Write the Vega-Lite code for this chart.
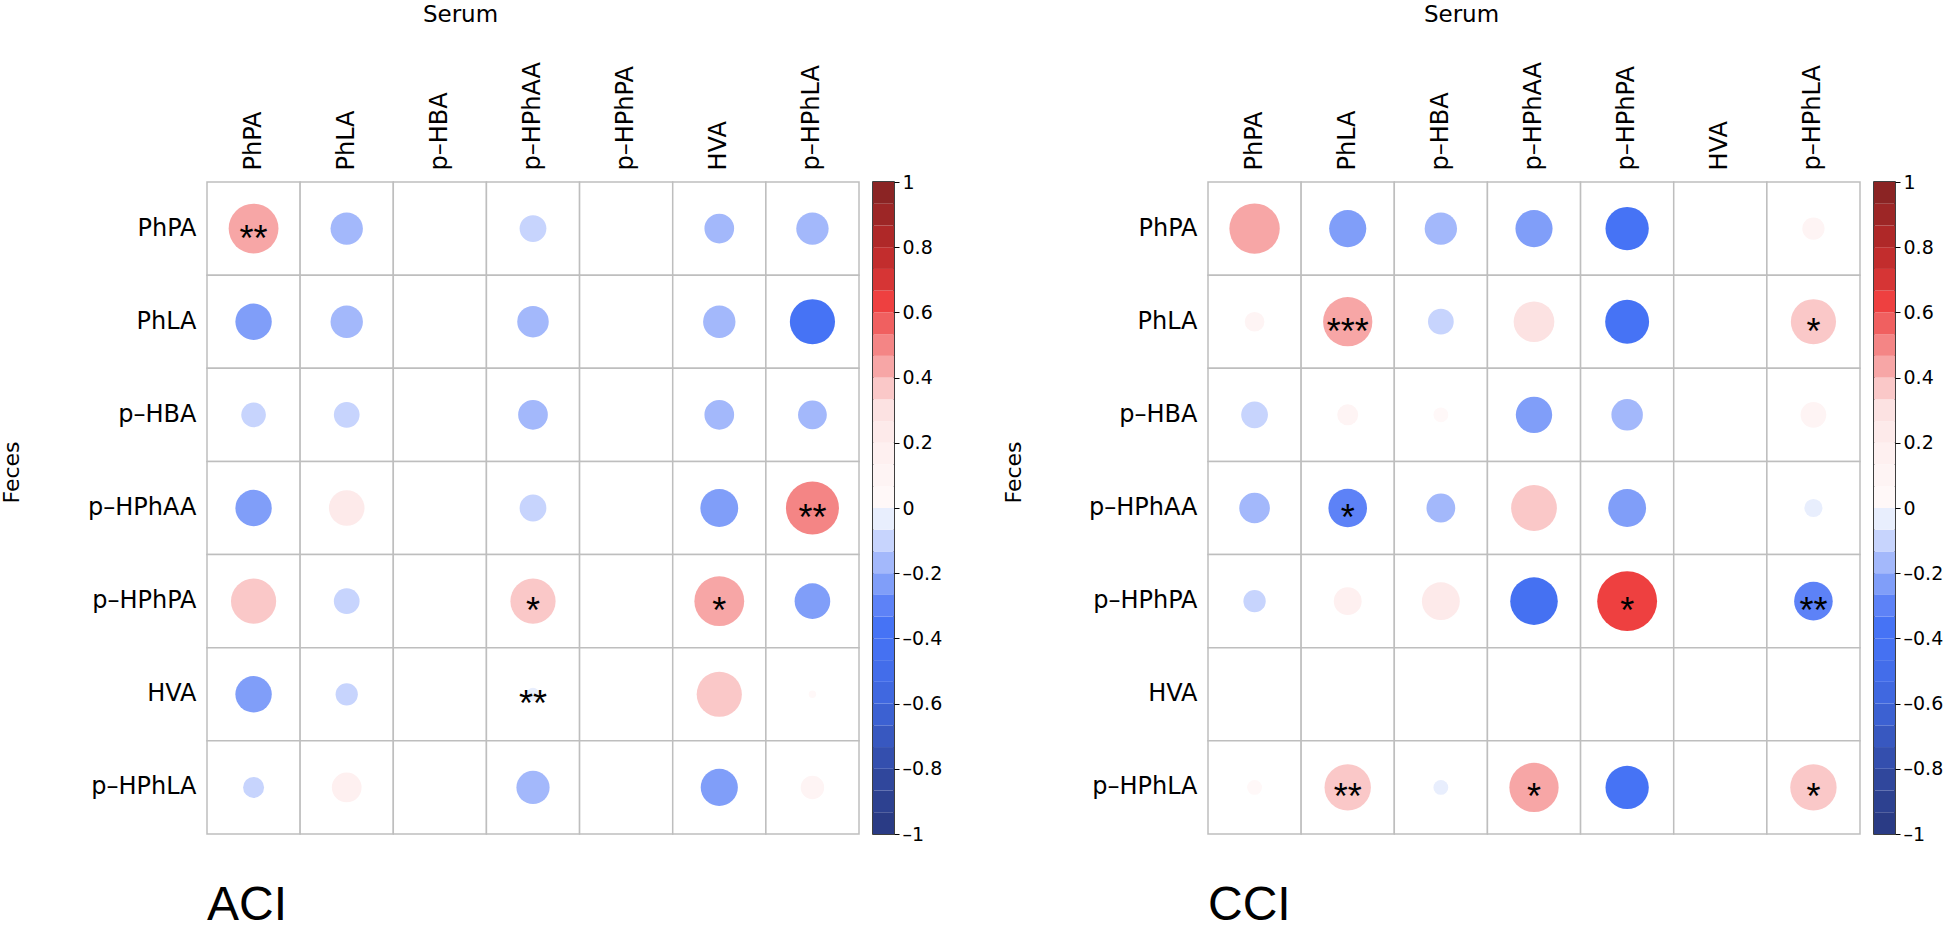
{
  "$schema": "https://vega.github.io/schema/vega-lite/v6.json",
  "padding": {"left": 0, "top": 3, "right": 0, "bottom": 0},
  "background": "white",
  "spacing": 59,
  "datasets": {
    "aci": [
      {"row": "PhPA", "col": "PhPA", "r": 0.45, "sig": "**"},
      {"row": "PhPA", "col": "PhLA", "r": -0.19, "sig": ""},
      {"row": "PhPA", "col": "p–HBA", "r": null, "sig": ""},
      {"row": "PhPA", "col": "p–HPhAA", "r": -0.13, "sig": ""},
      {"row": "PhPA", "col": "p–HPhPA", "r": null, "sig": ""},
      {"row": "PhPA", "col": "HVA", "r": -0.16, "sig": ""},
      {"row": "PhPA", "col": "p–HPhLA", "r": -0.19, "sig": ""},
      {"row": "PhLA", "col": "PhPA", "r": -0.24, "sig": ""},
      {"row": "PhLA", "col": "PhLA", "r": -0.19, "sig": ""},
      {"row": "PhLA", "col": "p–HBA", "r": null, "sig": ""},
      {"row": "PhLA", "col": "p–HPhAA", "r": -0.18, "sig": ""},
      {"row": "PhLA", "col": "p–HPhPA", "r": null, "sig": ""},
      {"row": "PhLA", "col": "HVA", "r": -0.19, "sig": ""},
      {"row": "PhLA", "col": "p–HPhLA", "r": -0.37, "sig": ""},
      {"row": "p–HBA", "col": "PhPA", "r": -0.11, "sig": ""},
      {"row": "p–HBA", "col": "PhLA", "r": -0.12, "sig": ""},
      {"row": "p–HBA", "col": "p–HBA", "r": null, "sig": ""},
      {"row": "p–HBA", "col": "p–HPhAA", "r": -0.16, "sig": ""},
      {"row": "p–HBA", "col": "p–HPhPA", "r": null, "sig": ""},
      {"row": "p–HBA", "col": "HVA", "r": -0.16, "sig": ""},
      {"row": "p–HBA", "col": "p–HPhLA", "r": -0.15, "sig": ""},
      {"row": "p–HPhAA", "col": "PhPA", "r": -0.24, "sig": ""},
      {"row": "p–HPhAA", "col": "PhLA", "r": 0.23, "sig": ""},
      {"row": "p–HPhAA", "col": "p–HBA", "r": null, "sig": ""},
      {"row": "p–HPhAA", "col": "p–HPhAA", "r": -0.13, "sig": ""},
      {"row": "p–HPhAA", "col": "p–HPhPA", "r": null, "sig": ""},
      {"row": "p–HPhAA", "col": "HVA", "r": -0.26, "sig": ""},
      {"row": "p–HPhAA", "col": "p–HPhLA", "r": 0.51, "sig": "**"},
      {"row": "p–HPhPA", "col": "PhPA", "r": 0.37, "sig": ""},
      {"row": "p–HPhPA", "col": "PhLA", "r": -0.12, "sig": ""},
      {"row": "p–HPhPA", "col": "p–HBA", "r": null, "sig": ""},
      {"row": "p–HPhPA", "col": "p–HPhAA", "r": 0.37, "sig": "*"},
      {"row": "p–HPhPA", "col": "p–HPhPA", "r": null, "sig": ""},
      {"row": "p–HPhPA", "col": "HVA", "r": 0.45, "sig": "*"},
      {"row": "p–HPhPA", "col": "p–HPhLA", "r": -0.23, "sig": ""},
      {"row": "HVA", "col": "PhPA", "r": -0.24, "sig": ""},
      {"row": "HVA", "col": "PhLA", "r": -0.09, "sig": ""},
      {"row": "HVA", "col": "p–HBA", "r": null, "sig": ""},
      {"row": "HVA", "col": "p–HPhAA", "r": -0.03, "sig": "**"},
      {"row": "HVA", "col": "p–HPhPA", "r": null, "sig": ""},
      {"row": "HVA", "col": "HVA", "r": 0.37, "sig": ""},
      {"row": "HVA", "col": "p–HPhLA", "r": 0.01, "sig": ""},
      {"row": "p–HPhLA", "col": "PhPA", "r": -0.08, "sig": ""},
      {"row": "p–HPhLA", "col": "PhLA", "r": 0.16, "sig": ""},
      {"row": "p–HPhLA", "col": "p–HBA", "r": null, "sig": ""},
      {"row": "p–HPhLA", "col": "p–HPhAA", "r": -0.2, "sig": ""},
      {"row": "p–HPhLA", "col": "p–HPhPA", "r": null, "sig": ""},
      {"row": "p–HPhLA", "col": "HVA", "r": -0.25, "sig": ""},
      {"row": "p–HPhLA", "col": "p–HPhLA", "r": 0.1, "sig": ""}
    ],
    "cci": [
      {"row": "PhPA", "col": "PhPA", "r": 0.46, "sig": ""},
      {"row": "PhPA", "col": "PhLA", "r": -0.25, "sig": ""},
      {"row": "PhPA", "col": "p–HBA", "r": -0.19, "sig": ""},
      {"row": "PhPA", "col": "p–HPhAA", "r": -0.25, "sig": ""},
      {"row": "PhPA", "col": "p–HPhPA", "r": -0.34, "sig": ""},
      {"row": "PhPA", "col": "HVA", "r": null, "sig": ""},
      {"row": "PhPA", "col": "p–HPhLA", "r": 0.09, "sig": ""},
      {"row": "PhLA", "col": "PhPA", "r": 0.07, "sig": ""},
      {"row": "PhLA", "col": "PhLA", "r": 0.44, "sig": "***"},
      {"row": "PhLA", "col": "p–HBA", "r": -0.12, "sig": ""},
      {"row": "PhLA", "col": "p–HPhAA", "r": 0.3, "sig": ""},
      {"row": "PhLA", "col": "p–HPhPA", "r": -0.35, "sig": ""},
      {"row": "PhLA", "col": "HVA", "r": null, "sig": ""},
      {"row": "PhLA", "col": "p–HPhLA", "r": 0.37, "sig": "*"},
      {"row": "p–HBA", "col": "PhPA", "r": -0.13, "sig": ""},
      {"row": "p–HBA", "col": "PhLA", "r": 0.08, "sig": ""},
      {"row": "p–HBA", "col": "p–HBA", "r": 0.04, "sig": ""},
      {"row": "p–HBA", "col": "p–HPhAA", "r": -0.24, "sig": ""},
      {"row": "p–HBA", "col": "p–HPhPA", "r": -0.18, "sig": ""},
      {"row": "p–HBA", "col": "HVA", "r": null, "sig": ""},
      {"row": "p–HBA", "col": "p–HPhLA", "r": 0.12, "sig": ""},
      {"row": "p–HPhAA", "col": "PhPA", "r": -0.17, "sig": ""},
      {"row": "p–HPhAA", "col": "PhLA", "r": -0.27, "sig": "*"},
      {"row": "p–HPhAA", "col": "p–HBA", "r": -0.15, "sig": ""},
      {"row": "p–HPhAA", "col": "p–HPhAA", "r": 0.38, "sig": ""},
      {"row": "p–HPhAA", "col": "p–HPhPA", "r": -0.26, "sig": ""},
      {"row": "p–HPhAA", "col": "HVA", "r": null, "sig": ""},
      {"row": "p–HPhAA", "col": "p–HPhLA", "r": -0.06, "sig": ""},
      {"row": "p–HPhPA", "col": "PhPA", "r": -0.09, "sig": ""},
      {"row": "p–HPhPA", "col": "PhLA", "r": 0.14, "sig": ""},
      {"row": "p–HPhPA", "col": "p–HBA", "r": 0.26, "sig": ""},
      {"row": "p–HPhPA", "col": "p–HPhAA", "r": -0.41, "sig": ""},
      {"row": "p–HPhPA", "col": "p–HPhPA", "r": 0.65, "sig": "*"},
      {"row": "p–HPhPA", "col": "HVA", "r": null, "sig": ""},
      {"row": "p–HPhPA", "col": "p–HPhLA", "r": -0.27, "sig": "**"},
      {"row": "HVA", "col": "PhPA", "r": null, "sig": ""},
      {"row": "HVA", "col": "PhLA", "r": null, "sig": ""},
      {"row": "HVA", "col": "p–HBA", "r": null, "sig": ""},
      {"row": "HVA", "col": "p–HPhAA", "r": null, "sig": ""},
      {"row": "HVA", "col": "p–HPhPA", "r": null, "sig": ""},
      {"row": "HVA", "col": "HVA", "r": null, "sig": ""},
      {"row": "HVA", "col": "p–HPhLA", "r": null, "sig": ""},
      {"row": "p–HPhLA", "col": "PhPA", "r": 0.04, "sig": ""},
      {"row": "p–HPhLA", "col": "PhLA", "r": 0.39, "sig": "**"},
      {"row": "p–HPhLA", "col": "p–HBA", "r": -0.04, "sig": ""},
      {"row": "p–HPhLA", "col": "p–HPhAA", "r": 0.44, "sig": "*"},
      {"row": "p–HPhLA", "col": "p–HPhPA", "r": -0.34, "sig": ""},
      {"row": "p–HPhLA", "col": "HVA", "r": null, "sig": ""},
      {"row": "p–HPhLA", "col": "p–HPhLA", "r": 0.39, "sig": "*"}
    ],
    "bar": [
      {"lo": -1, "hi": -0.9333, "mid": -0.9667},
      {"lo": -0.9333, "hi": -0.8667, "mid": -0.9},
      {"lo": -0.8667, "hi": -0.8, "mid": -0.8333},
      {"lo": -0.8, "hi": -0.7333, "mid": -0.7667},
      {"lo": -0.7333, "hi": -0.6667, "mid": -0.7},
      {"lo": -0.6667, "hi": -0.6, "mid": -0.6333},
      {"lo": -0.6, "hi": -0.5333, "mid": -0.5667},
      {"lo": -0.5333, "hi": -0.4667, "mid": -0.5},
      {"lo": -0.4667, "hi": -0.4, "mid": -0.4333},
      {"lo": -0.4, "hi": -0.3333, "mid": -0.3667},
      {"lo": -0.3333, "hi": -0.2667, "mid": -0.3},
      {"lo": -0.2667, "hi": -0.2, "mid": -0.2333},
      {"lo": -0.2, "hi": -0.1333, "mid": -0.1667},
      {"lo": -0.1333, "hi": -0.0667, "mid": -0.1},
      {"lo": -0.0667, "hi": 0, "mid": -0.0333},
      {"lo": 0, "hi": 0.0667, "mid": 0.0333},
      {"lo": 0.0667, "hi": 0.1333, "mid": 0.1},
      {"lo": 0.1333, "hi": 0.2, "mid": 0.1667},
      {"lo": 0.2, "hi": 0.2667, "mid": 0.2333},
      {"lo": 0.2667, "hi": 0.3333, "mid": 0.3},
      {"lo": 0.3333, "hi": 0.4, "mid": 0.3667},
      {"lo": 0.4, "hi": 0.4667, "mid": 0.4333},
      {"lo": 0.4667, "hi": 0.5333, "mid": 0.5},
      {"lo": 0.5333, "hi": 0.6, "mid": 0.5667},
      {"lo": 0.6, "hi": 0.6667, "mid": 0.6333},
      {"lo": 0.6667, "hi": 0.7333, "mid": 0.7},
      {"lo": 0.7333, "hi": 0.8, "mid": 0.7667},
      {"lo": 0.8, "hi": 0.8667, "mid": 0.8333},
      {"lo": 0.8667, "hi": 0.9333, "mid": 0.9},
      {"lo": 0.9333, "hi": 1, "mid": 0.9667}
    ]
  },
  "hconcat": [
    {
      "spacing": 12,
      "hconcat": [
        {
          "width": 652,
          "height": 652,
          "data": {"name": "aci"},
          "title": {"text": "ACI", "orient": "bottom", "anchor": "start", "frame": "group", "fontSize": 48, "font": "Liberation Sans", "fontWeight": "normal", "color": "black", "baseline": "alphabetic", "offset": 85},
          "encoding": {
            "x": {"field": "col", "type": "nominal", "sort": ["PhPA", "PhLA", "p–HBA", "p–HPhAA", "p–HPhPA", "HVA", "p–HPhLA"], "scale": {"paddingInner": 0, "paddingOuter": 0},
              "axis": {"orient": "top", "title": "Serum", "labelAngle": -90, "labelAlign": "left", "labelBaseline": "middle", "labelPadding": 12, "labelFontSize": 24, "titleFontSize": 23, "titleX": 253, "titleY": -161, "titleAlign": "center", "titleBaseline": "alphabetic", "titleAngle": 0}},
            "y": {"field": "row", "type": "nominal", "sort": ["PhPA", "PhLA", "p–HBA", "p–HPhAA", "p–HPhPA", "HVA", "p–HPhLA"], "scale": {"paddingInner": 0, "paddingOuter": 0},
              "axis": {"title": "Feces", "labelPadding": 11, "labelFontSize": 24, "titleFontSize": 22, "titleX": -189, "titleY": 290, "titleAngle": -90, "titleAlign": "center", "titleBaseline": "alphabetic"}}
          },
          "layer": [
            {"mark": {"type": "rect", "fill": "white", "stroke": "#BEBEBE", "strokeWidth": 1.5}},
            {"mark": {"type": "point", "shape": "circle", "filled": true, "opacity": 1, "strokeWidth": 0},
              "encoding": {
                "color": {"field": "r", "type": "quantitative", "legend": null, "scale": {"type": "quantize", "domain": [-1, 1], "range": ["#2A3B85", "#2D4190", "#30479C", "#344FAE", "#3858C0", "#3C61D2", "#4068E0", "#436DEA", "#4571F2", "#4673F5", "#5D82F7", "#809EF9", "#A3B8FB", "#C7D4FD", "#E8EEFD", "#FFF8F8", "#FEF4F4", "#FEF0F0", "#FDEAEA", "#FCE2E2", "#FAC8C8", "#F7A6A6", "#F48585", "#F06060", "#EE4040", "#D63535", "#C22D2D", "#AF2828", "#9D2626", "#8B2424"]}},
                "size": {"field": "r", "type": "quantitative", "legend": null, "scale": {"type": "linear", "zero": false, "domain": [-1, 0, 1], "range": [5515, 0, 5515]}}
              }},
            {"mark": {"type": "text", "font": "Liberation Sans", "fontSize": 36, "baseline": "alphabetic", "align": "center", "dy": 22, "color": "black"},
              "encoding": {"text": {"field": "sig", "type": "nominal"}}}
          ]
        },
        {
          "width": 21,
          "height": 652,
          "data": {"name": "bar"},
          "view": {"stroke": "black", "strokeWidth": 1.5},
          "mark": {"type": "rect"},
          "encoding": {
            "x": {"datum": 0, "type": "quantitative", "scale": {"domain": [0, 1]}, "axis": null},
            "x2": {"datum": 1},
            "y": {"field": "lo", "type": "quantitative", "scale": {"domain": [-1, 1], "nice": false, "zero": false},
              "axis": {"orient": "right", "title": null, "values": [-1, -0.8, -0.6, -0.4, -0.2, 0, 0.2, 0.4, 0.6, 0.8, 1], "labelExpr": "datum.value < 0 ? '–' + format(-datum.value, '~g') : format(datum.value, '~g')", "ticks": true, "tickSize": 5, "tickColor": "black", "tickWidth": 1, "labelPadding": 3, "labelFontSize": 19, "labelOverlap": false, "labelBound": false, "labelFlush": false, "labelAlign": "left", "labelBaseline": "middle"}},
            "y2": {"field": "hi"},
            "color": {"field": "mid", "type": "quantitative", "legend": null, "scale": {"type": "quantize", "domain": [-1, 1], "range": ["#2A3B85", "#2D4190", "#30479C", "#344FAE", "#3858C0", "#3C61D2", "#4068E0", "#436DEA", "#4571F2", "#4673F5", "#5D82F7", "#809EF9", "#A3B8FB", "#C7D4FD", "#E8EEFD", "#FFF8F8", "#FEF4F4", "#FEF0F0", "#FDEAEA", "#FCE2E2", "#FAC8C8", "#F7A6A6", "#F48585", "#F06060", "#EE4040", "#D63535", "#C22D2D", "#AF2828", "#9D2626", "#8B2424"]}}
          }
        }
      ]
    },
    {
      "spacing": 12,
      "hconcat": [
        {
          "width": 652,
          "height": 652,
          "data": {"name": "cci"},
          "title": {"text": "CCI", "orient": "bottom", "anchor": "start", "frame": "group", "fontSize": 48, "font": "Liberation Sans", "fontWeight": "normal", "color": "black", "baseline": "alphabetic", "offset": 85},
          "encoding": {
            "x": {"field": "col", "type": "nominal", "sort": ["PhPA", "PhLA", "p–HBA", "p–HPhAA", "p–HPhPA", "HVA", "p–HPhLA"], "scale": {"paddingInner": 0, "paddingOuter": 0},
              "axis": {"orient": "top", "title": "Serum", "labelAngle": -90, "labelAlign": "left", "labelBaseline": "middle", "labelPadding": 12, "labelFontSize": 24, "titleFontSize": 23, "titleX": 253, "titleY": -161, "titleAlign": "center", "titleBaseline": "alphabetic", "titleAngle": 0}},
            "y": {"field": "row", "type": "nominal", "sort": ["PhPA", "PhLA", "p–HBA", "p–HPhAA", "p–HPhPA", "HVA", "p–HPhLA"], "scale": {"paddingInner": 0, "paddingOuter": 0},
              "axis": {"title": "Feces", "labelPadding": 11, "labelFontSize": 24, "titleFontSize": 22, "titleX": -188, "titleY": 290, "titleAngle": -90, "titleAlign": "center", "titleBaseline": "alphabetic"}}
          },
          "layer": [
            {"mark": {"type": "rect", "fill": "white", "stroke": "#BEBEBE", "strokeWidth": 1.5}},
            {"mark": {"type": "point", "shape": "circle", "filled": true, "opacity": 1, "strokeWidth": 0},
              "encoding": {
                "color": {"field": "r", "type": "quantitative", "legend": null, "scale": {"type": "quantize", "domain": [-1, 1], "range": ["#2A3B85", "#2D4190", "#30479C", "#344FAE", "#3858C0", "#3C61D2", "#4068E0", "#436DEA", "#4571F2", "#4673F5", "#5D82F7", "#809EF9", "#A3B8FB", "#C7D4FD", "#E8EEFD", "#FFF8F8", "#FEF4F4", "#FEF0F0", "#FDEAEA", "#FCE2E2", "#FAC8C8", "#F7A6A6", "#F48585", "#F06060", "#EE4040", "#D63535", "#C22D2D", "#AF2828", "#9D2626", "#8B2424"]}},
                "size": {"field": "r", "type": "quantitative", "legend": null, "scale": {"type": "linear", "zero": false, "domain": [-1, 0, 1], "range": [5515, 0, 5515]}}
              }},
            {"mark": {"type": "text", "font": "Liberation Sans", "fontSize": 36, "baseline": "alphabetic", "align": "center", "dy": 22, "color": "black"},
              "encoding": {"text": {"field": "sig", "type": "nominal"}}}
          ]
        },
        {
          "width": 21,
          "height": 652,
          "data": {"name": "bar"},
          "view": {"stroke": "black", "strokeWidth": 1.5},
          "mark": {"type": "rect"},
          "encoding": {
            "x": {"datum": 0, "type": "quantitative", "scale": {"domain": [0, 1]}, "axis": null},
            "x2": {"datum": 1},
            "y": {"field": "lo", "type": "quantitative", "scale": {"domain": [-1, 1], "nice": false, "zero": false},
              "axis": {"orient": "right", "title": null, "values": [-1, -0.8, -0.6, -0.4, -0.2, 0, 0.2, 0.4, 0.6, 0.8, 1], "labelExpr": "datum.value < 0 ? '–' + format(-datum.value, '~g') : format(datum.value, '~g')", "ticks": true, "tickSize": 5, "tickColor": "black", "tickWidth": 1, "labelPadding": 3, "labelFontSize": 19, "labelOverlap": false, "labelBound": false, "labelFlush": false, "labelAlign": "left", "labelBaseline": "middle"}},
            "y2": {"field": "hi"},
            "color": {"field": "mid", "type": "quantitative", "legend": null, "scale": {"type": "quantize", "domain": [-1, 1], "range": ["#2A3B85", "#2D4190", "#30479C", "#344FAE", "#3858C0", "#3C61D2", "#4068E0", "#436DEA", "#4571F2", "#4673F5", "#5D82F7", "#809EF9", "#A3B8FB", "#C7D4FD", "#E8EEFD", "#FFF8F8", "#FEF4F4", "#FEF0F0", "#FDEAEA", "#FCE2E2", "#FAC8C8", "#F7A6A6", "#F48585", "#F06060", "#EE4040", "#D63535", "#C22D2D", "#AF2828", "#9D2626", "#8B2424"]}}
          }
        }
      ]
    }
  ],
  "config": {
    "font": "DejaVu Sans",
    "view": {"stroke": null},
    "axis": {"labelFont": "DejaVu Sans", "titleFont": "DejaVu Sans", "labelColor": "black", "titleColor": "black", "titleFontWeight": "normal", "domain": false, "ticks": false, "grid": false}
  }
}
